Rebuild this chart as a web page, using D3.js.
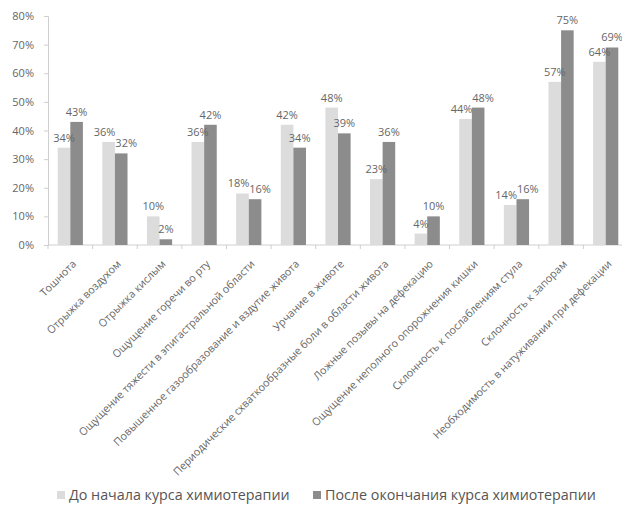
<!DOCTYPE html>
<html>
<head>
<meta charset="utf-8">
<script src="https://cdn.jsdelivr.net/npm/d3@7"></script>
<style>
  html, body { margin: 0; padding: 0; background: #fff; }
  svg { display: block; font-family: "Open Sans", "DejaVu Sans", sans-serif; }
</style>
</head>
<body>
<svg id="chart" width="622" height="505"></svg>
<script>
// Symptom categories (x axis)
const categories = [
  "Тошнота",
  "Отрыжка воздухом",
  "Отрыжка кислым",
  "Ощущение горечи во рту",
  "Ощущение тяжести в эпигастральной области",
  "Повышенное газообразование и вздутие живота",
  "Урчание в животе",
  "Периодические схваткообразные боли в области живота",
  "Ложные позывы на дефекацию",
  "Ощущение неполного опорожнения кишки",
  "Склонность к послаблениям стула",
  "Склонность к запорам",
  "Необходимость в натуживании при дефекации"
];

// Share of patients, %
const beforeCourse = [34, 36, 10, 36, 18, 42, 48, 23, 4, 44, 14, 57, 64];
const afterCourse  = [43, 32, 2, 42, 16, 34, 39, 36, 10, 48, 16, 75, 69];

const seriesNames = ["До начала курса химиотерапии", "После окончания курса химиотерапии"];
const yTicks = [0, 10, 20, 30, 40, 50, 60, 70, 80];

const seriesColors = ["#dcdcdc", "#8c8c8c"];
const textColor = "#666";
const axisColor = "#cfcfcf";

const svg = d3.select("#chart");

const plot = { left: 48, right: 628, top: 16, bottom: 245 };

const x = d3.scaleBand()
  .domain(categories)
  .range([plot.left, plot.right])
  .paddingInner(0)
  .paddingOuter(0);

const barW = 12.6;
const xSub = d3.scaleBand()
  .domain([0, 1])
  .range([0, barW * 2])
  .padding(0);

const y = d3.scaleLinear()
  .domain([0, 80])
  .range([plot.bottom, plot.top]);

// Y axis
const yAxis = svg.append("g")
  .attr("transform", `translate(${plot.left},0)`)
  .call(d3.axisLeft(y).tickValues(yTicks).tickFormat(d => d + "%").tickSize(4).tickPadding(10));
yAxis.select(".domain").attr("stroke", axisColor);
yAxis.selectAll(".tick line").attr("stroke", axisColor);
yAxis.selectAll(".tick text")
  .attr("fill", textColor)
  .style("font-size", "11px")
  .style("font-family", "'Open Sans', sans-serif");

// X axis: tick marks at category boundaries
const xAxis = svg.append("g")
  .attr("transform", `translate(0,${plot.bottom})`);
xAxis.append("line")
  .attr("x1", plot.left).attr("x2", plot.right)
  .attr("stroke", axisColor);
const boundaries = categories.map(c => x(c)).concat([x(categories[categories.length - 1]) + x.bandwidth()]);
xAxis.selectAll("line.tick")
  .data(boundaries)
  .join("line")
  .attr("class", "tick")
  .attr("x1", d => d).attr("x2", d => d)
  .attr("y1", 0).attr("y2", 4)
  .attr("stroke", axisColor);

// Rotated category labels
xAxis.selectAll("text.cat")
  .data(categories)
  .join("text")
  .attr("class", "cat")
  .attr("text-anchor", "end")
  .attr("fill", textColor)
  .style("font-size", "10.7px")
  .attr("transform", d => `translate(${x(d) + x.bandwidth() / 2 + 4},${17}) rotate(-45)`)
  .attr("dy", "0.35em")
  .text(d => d);

// Bars
const rows = categories.map((c, i) => ({ cat: c, values: [beforeCourse[i], afterCourse[i]] }));

const groups = svg.append("g")
  .selectAll("g")
  .data(rows)
  .join("g")
  .attr("transform", d => `translate(${x(d.cat) + x.bandwidth() / 2 - barW},0)`);

groups.selectAll("rect")
  .data(d => d.values.map((v, s) => ({ v, s })))
  .join("rect")
  .attr("x", d => xSub(d.s))
  .attr("y", d => y(d.v))
  .attr("width", xSub.bandwidth())
  .attr("height", d => y(0) - y(d.v))
  .attr("fill", d => seriesColors[d.s]);

// Value labels above bars; a pair at nearly the same height is pushed apart
groups.selectAll("text")
  .data(d => {
    const close = Math.abs(y(d.values[0]) - y(d.values[1])) < 12;
    return d.values.map((v, s) => ({ v, s, shift: close ? (s === 0 ? -4 : 5) : 0 }));
  })
  .join("text")
  .attr("x", d => xSub(d.s) + xSub.bandwidth() / 2 + d.shift)
  .attr("y", d => y(d.v) - 6)
  .attr("text-anchor", "middle")
  .attr("fill", textColor)
  .style("font-size", "11px")
  .text(d => d.v + "%");

// Legend
const legendItems = [
  { name: seriesNames[0], color: seriesColors[0], x: 57 },
  { name: seriesNames[1], color: seriesColors[1], x: 313 }
];
const legend = svg.append("g").attr("transform", "translate(0,491)");
legendItems.forEach(item => {
  legend.append("rect")
    .attr("x", item.x).attr("y", 0)
    .attr("width", 8).attr("height", 8)
    .attr("fill", item.color);
  legend.append("text")
    .attr("x", item.x + 12)
    .attr("y", 9)
    .attr("fill", "#555")
    .style("font-size", "14.3px")
    .text(item.name);
});
</script>
</body>
</html>
